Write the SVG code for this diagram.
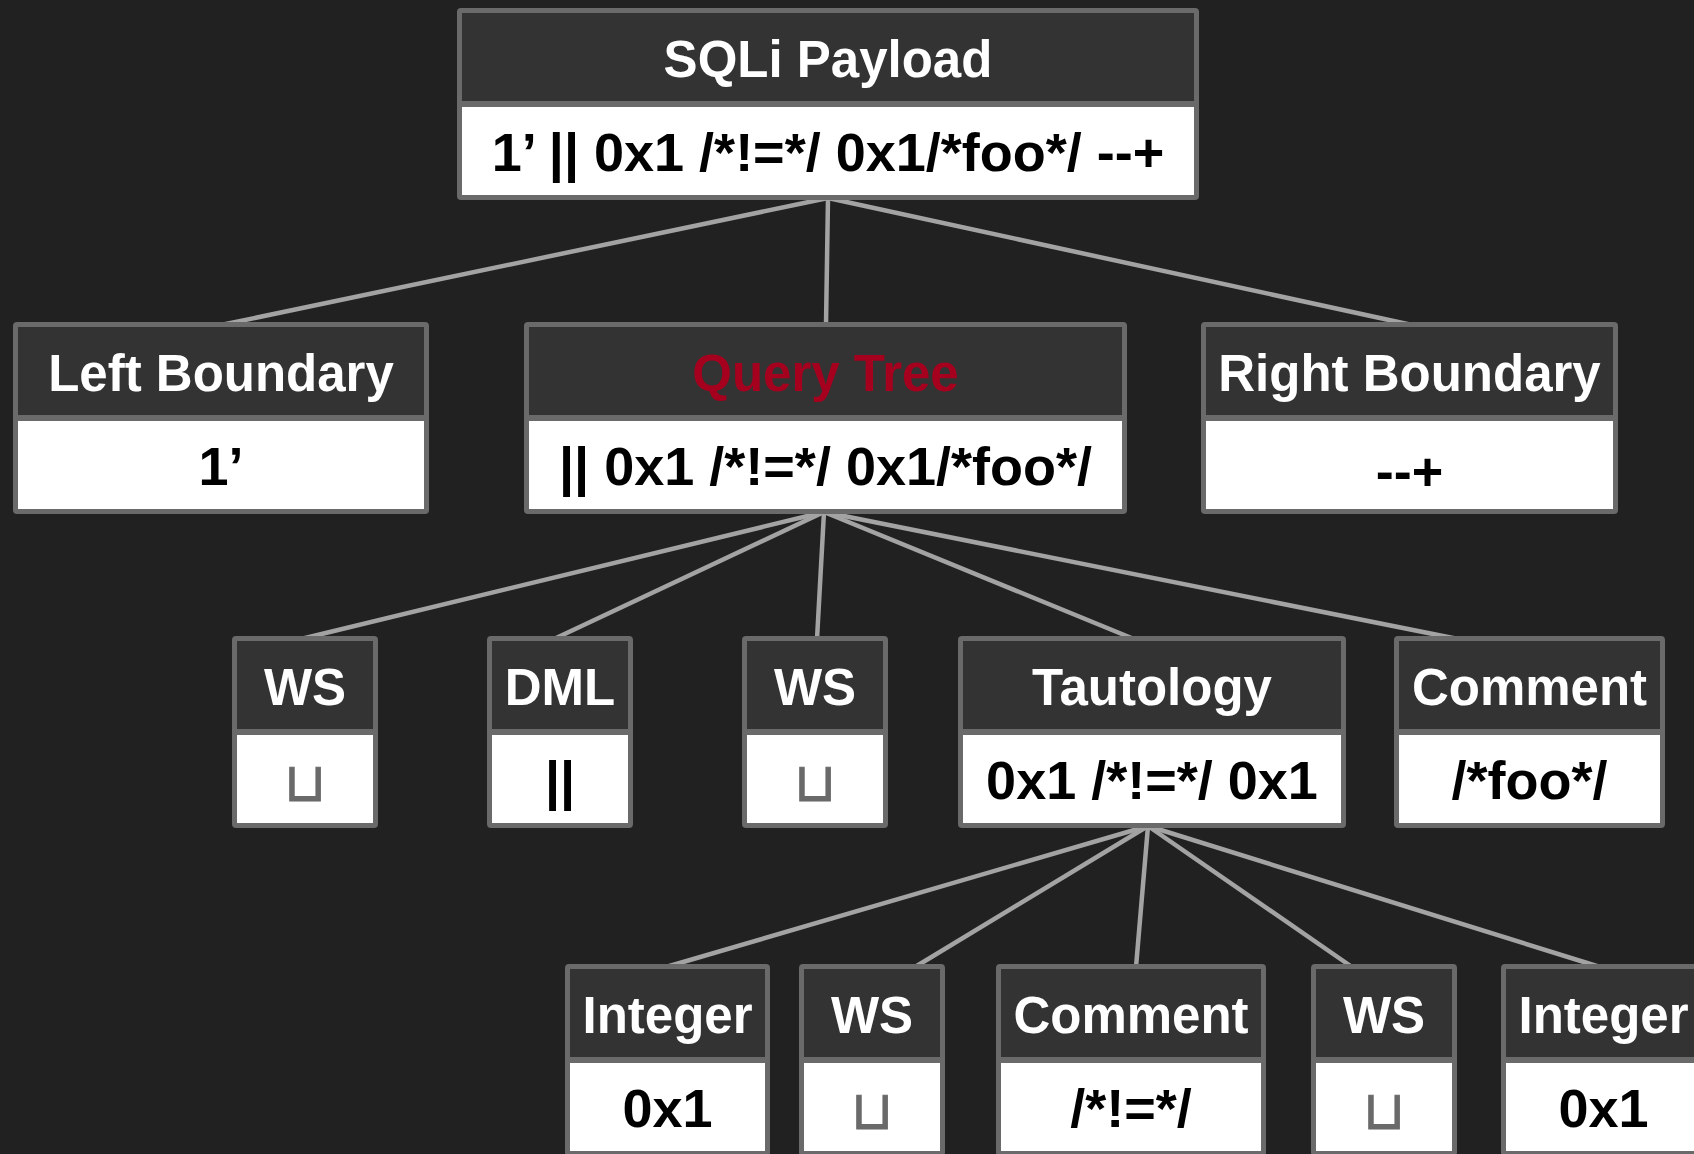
<svg xmlns="http://www.w3.org/2000/svg" width="1694" height="1154" viewBox="0 0 1694 1154">
  <style>
    .bg { fill: #212121; }
    .frame { fill: #6a6a6a; }
    .head { fill: #333333; }
    .body { fill: #ffffff; }
    .title { font-family: "Liberation Sans", Arial, sans-serif; font-weight: bold; font-size: 51px; fill: #ffffff; text-anchor: middle; }
    .title.hl { fill: #a6001f; }
    .value { font-family: "Liberation Sans", Arial, sans-serif; font-weight: bold; font-size: 54px; fill: #000000; text-anchor: middle; }
    .space { font-family: "DejaVu Sans", sans-serif; font-weight: normal; font-size: 54px; fill: #6a6a6a; stroke: #6a6a6a; stroke-width: 0.9; text-anchor: middle; }
    .edge { stroke: #a3a3a3; stroke-width: 4.5; stroke-linecap: round; fill: none; }
  </style>

  <rect class="bg" x="0" y="0" width="1694" height="1154"/>

  <!-- tree edges, drawn beneath the nodes -->
  <g id="connectors">
    <line class="edge" x1="828" y1="198" x2="221" y2="325"/>
    <line class="edge" x1="828" y1="198" x2="826" y2="325"/>
    <line class="edge" x1="828" y1="198" x2="1412" y2="325"/>

    <line class="edge" x1="824" y1="512" x2="301" y2="639"/>
    <line class="edge" x1="824" y1="512" x2="554" y2="639"/>
    <line class="edge" x1="824" y1="512" x2="817" y2="639"/>
    <line class="edge" x1="824" y1="512" x2="1134" y2="639"/>
    <line class="edge" x1="824" y1="512" x2="1458" y2="639"/>

    <line class="edge" x1="1148" y1="826" x2="666" y2="967"/>
    <line class="edge" x1="1148" y1="826" x2="915" y2="967"/>
    <line class="edge" x1="1148" y1="826" x2="1136" y2="967"/>
    <line class="edge" x1="1148" y1="826" x2="1352" y2="967"/>
    <line class="edge" x1="1148" y1="826" x2="1600" y2="967"/>
  </g>

  <!-- each node: grey frame, dark title band, white value band -->
  <g id="node-payload">
    <rect class="frame" x="457" y="8" width="742" height="192" rx="4"/>
    <rect class="head" x="462" y="13" width="732" height="88"/>
    <rect class="body" x="462" y="107" width="732" height="88"/>
    <text class="title" x="828" y="77">SQLi Payload</text>
    <text class="value" x="828" y="171">1’ || 0x1 /*!=*/ 0x1/*foo*/ --+</text>
  </g>

  <g id="node-left-boundary">
    <rect class="frame" x="13" y="322" width="416" height="192" rx="4"/>
    <rect class="head" x="18" y="327" width="406" height="88"/>
    <rect class="body" x="18" y="421" width="406" height="88"/>
    <text class="title" x="221" y="391">Left Boundary</text>
    <text class="value" x="221" y="485">1’</text>
  </g>

  <g id="node-query-tree">
    <rect class="frame" x="524" y="322" width="603" height="192" rx="4"/>
    <rect class="head" x="529" y="327" width="593" height="88"/>
    <rect class="body" x="529" y="421" width="593" height="88"/>
    <text class="title hl" x="825.5" y="391">Query Tree</text>
    <text class="value" x="825.5" y="485">|| 0x1 /*!=*/ 0x1/*foo*/</text>
  </g>

  <g id="node-right-boundary">
    <rect class="frame" x="1201" y="322" width="417" height="192" rx="4"/>
    <rect class="head" x="1206" y="327" width="407" height="88"/>
    <rect class="body" x="1206" y="421" width="407" height="88"/>
    <text class="title" x="1409.5" y="391">Right Boundary</text>
    <text class="value" x="1409.5" y="490">--+</text>
  </g>

  <g id="node-ws-1">
    <rect class="frame" x="232" y="636" width="146" height="192" rx="4"/>
    <rect class="head" x="237" y="641" width="136" height="88"/>
    <rect class="body" x="237" y="735" width="136" height="88"/>
    <text class="title" x="305" y="705">WS</text>
    <text class="space" x="305" y="801">⊔</text>
  </g>

  <g id="node-dml">
    <rect class="frame" x="487" y="636" width="146" height="192" rx="4"/>
    <rect class="head" x="492" y="641" width="136" height="88"/>
    <rect class="body" x="492" y="735" width="136" height="88"/>
    <text class="title" x="560" y="705">DML</text>
    <text class="value" x="560" y="799">||</text>
  </g>

  <g id="node-ws-2">
    <rect class="frame" x="742" y="636" width="146" height="192" rx="4"/>
    <rect class="head" x="747" y="641" width="136" height="88"/>
    <rect class="body" x="747" y="735" width="136" height="88"/>
    <text class="title" x="815" y="705">WS</text>
    <text class="space" x="815" y="801">⊔</text>
  </g>

  <g id="node-tautology">
    <rect class="frame" x="958" y="636" width="388" height="192" rx="4"/>
    <rect class="head" x="963" y="641" width="378" height="88"/>
    <rect class="body" x="963" y="735" width="378" height="88"/>
    <text class="title" x="1152" y="705">Tautology</text>
    <text class="value" x="1152" y="799">0x1 /*!=*/ 0x1</text>
  </g>

  <g id="node-comment-1">
    <rect class="frame" x="1394" y="636" width="271" height="192" rx="4"/>
    <rect class="head" x="1399" y="641" width="261" height="88"/>
    <rect class="body" x="1399" y="735" width="261" height="88"/>
    <text class="title" x="1529.5" y="705">Comment</text>
    <text class="value" x="1529.5" y="799">/*foo*/</text>
  </g>

  <g id="node-integer-1">
    <rect class="frame" x="565" y="964" width="205" height="192" rx="4"/>
    <rect class="head" x="570" y="969" width="195" height="88"/>
    <rect class="body" x="570" y="1063" width="195" height="88"/>
    <text class="title" x="667.5" y="1033">Integer</text>
    <text class="value" x="667.5" y="1127">0x1</text>
  </g>

  <g id="node-ws-3">
    <rect class="frame" x="799" y="964" width="146" height="192" rx="4"/>
    <rect class="head" x="804" y="969" width="136" height="88"/>
    <rect class="body" x="804" y="1063" width="136" height="88"/>
    <text class="title" x="872" y="1033">WS</text>
    <text class="space" x="872" y="1129">⊔</text>
  </g>

  <g id="node-comment-2">
    <rect class="frame" x="996" y="964" width="270" height="192" rx="4"/>
    <rect class="head" x="1001" y="969" width="260" height="88"/>
    <rect class="body" x="1001" y="1063" width="260" height="88"/>
    <text class="title" x="1131" y="1033">Comment</text>
    <text class="value" x="1131" y="1127">/*!=*/</text>
  </g>

  <g id="node-ws-4">
    <rect class="frame" x="1311" y="964" width="146" height="192" rx="4"/>
    <rect class="head" x="1316" y="969" width="136" height="88"/>
    <rect class="body" x="1316" y="1063" width="136" height="88"/>
    <text class="title" x="1384" y="1033">WS</text>
    <text class="space" x="1384" y="1129">⊔</text>
  </g>

  <g id="node-integer-2">
    <rect class="frame" x="1501" y="964" width="205" height="192" rx="4"/>
    <rect class="head" x="1506" y="969" width="195" height="88"/>
    <rect class="body" x="1506" y="1063" width="195" height="88"/>
    <text class="title" x="1603.5" y="1033">Integer</text>
    <text class="value" x="1603.5" y="1127">0x1</text>
  </g>
</svg>
